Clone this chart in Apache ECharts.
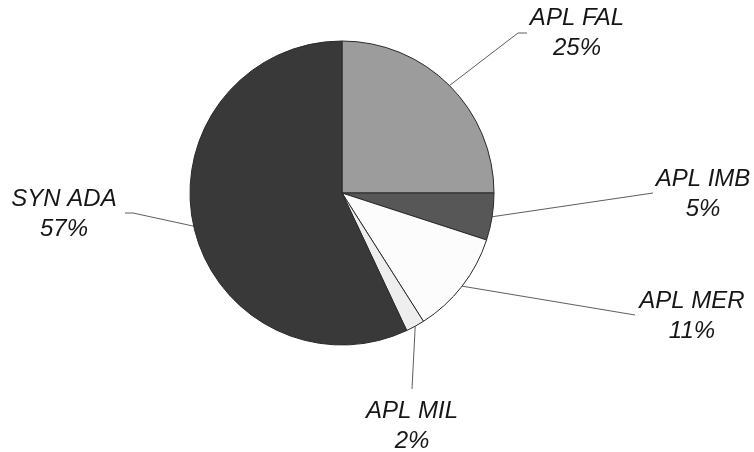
<!DOCTYPE html>
<html>
<head>
<meta charset="utf-8">
<script src="https://cdn.jsdelivr.net/npm/echarts@6/dist/echarts.min.js"></script>
<style>
  html, body { margin: 0; padding: 0; background: #ffffff; }
  #chart { width: 754px; height: 452px; }
</style>
</head>
<body>
<div id="chart"></div>
<script>
// Share by product
const categories = ['APL FAL', 'APL IMB', 'APL MER', 'APL MIL', 'SYN ADA'];
const shares = [25, 5, 11, 2, 57];
const sliceColors = ['#9c9c9c', '#575757', '#fcfcfc', '#eeeeee', '#393939'];

// Callout placement: knee/end of each leader line and the centre of its text block
const calloutKnee = [[518, 33], [653, 193], [635, 315], [412, 389], [133, 213]];
const calloutEnd  = [[527, 33], [653, 193], [635, 315], [412, 389], [125, 213]];
const calloutText = [[577, 33], [703, 194], [692, 316], [412, 426], [64, 214]];

const chart = echarts.init(document.getElementById('chart'), null, { renderer: 'canvas' });

chart.setOption({
  backgroundColor: '#ffffff',
  animation: false,
  series: [{
    type: 'pie',
    center: [342, 193],
    radius: 152,
    startAngle: 90,
    clockwise: true,
    avoidLabelOverlap: false,
    itemStyle: { borderColor: '#2a2a2a', borderWidth: 1 },
    label: {
      show: true,
      formatter: p => p.name + '\n' + p.value + '%',
      fontFamily: 'Liberation Sans, Arial, sans-serif',
      fontStyle: 'italic',
      fontSize: 24,
      lineHeight: 30,
      color: '#161616',
      align: 'center'
    },
    labelLine: {
      show: true,
      length: 20,
      length2: 10,
      lineStyle: { color: '#5e5e5e', width: 1 }
    },
    labelLayout: function (params) {
      const i = params.dataIndex;
      const edge = params.labelLinePoints ? params.labelLinePoints[0] : calloutKnee[i];
      return {
        x: calloutText[i][0],
        y: calloutText[i][1],
        align: 'center',
        verticalAlign: 'middle',
        labelLinePoints: [edge, calloutKnee[i], calloutEnd[i]]
      };
    },
    data: categories.map((name, i) => ({
      name: name,
      value: shares[i],
      itemStyle: { color: sliceColors[i] }
    }))
  }]
});
</script>
</body>
</html>
